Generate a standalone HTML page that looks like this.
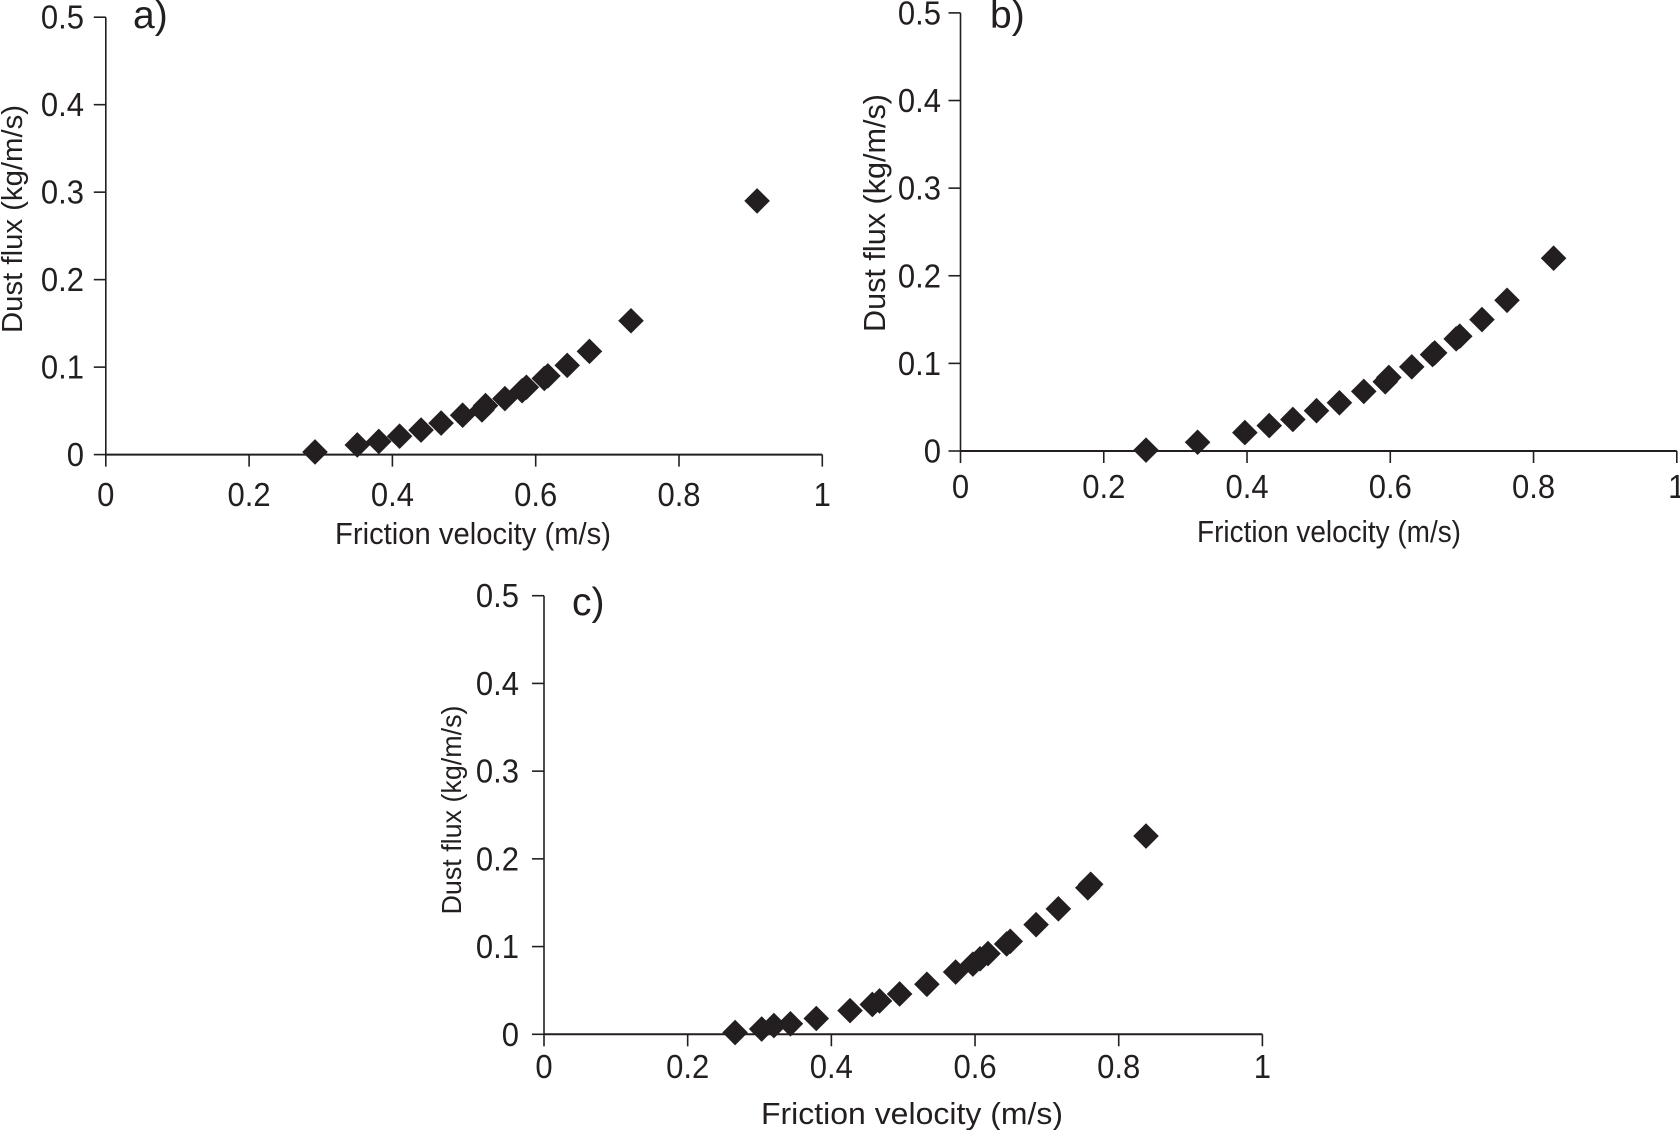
<!DOCTYPE html>
<html lang="en">
<head>
<meta charset="utf-8">
<title>Dust flux vs friction velocity</title>
<style>
html,body{margin:0;padding:0;background:#fff;width:1680px;height:1130px;overflow:hidden}
svg{display:block}
text{font-family:"Liberation Sans",Arial,sans-serif;fill:#231f20}
</style>
</head>
<body>
<svg id="chart" xmlns="http://www.w3.org/2000/svg" width="1680" height="1130" viewBox="0 0 1680 1130"></svg>
<script>
const xTickValues = [0, 0.2, 0.4, 0.6, 0.8, 1];
const yTickValues = [0, 0.1, 0.2, 0.3, 0.4, 0.5];
const xTickLabels = ['0', '0.2', '0.4', '0.6', '0.8', '1'];
const yTickLabels = ['0', '0.1', '0.2', '0.3', '0.4', '0.5'];

const velocityA = [0.292, 0.351, 0.381, 0.410, 0.440, 0.468, 0.498, 0.525, 0.530, 0.557, 0.581, 0.587, 0.612, 0.617, 0.644, 0.675, 0.733, 0.909];
const fluxA = [0.003, 0.011, 0.015, 0.021, 0.028, 0.036, 0.045, 0.051, 0.056, 0.064, 0.073, 0.077, 0.087, 0.090, 0.102, 0.118, 0.153, 0.290];

const velocityB = [0.259, 0.331, 0.397, 0.431, 0.464, 0.497, 0.529, 0.563, 0.593, 0.598, 0.630, 0.659, 0.662, 0.692, 0.697, 0.728, 0.763, 0.828];
const fluxB = [0.001, 0.010, 0.021, 0.029, 0.036, 0.046, 0.055, 0.068, 0.079, 0.084, 0.096, 0.110, 0.112, 0.128, 0.131, 0.150, 0.172, 0.220];

const velocityC = [0.266, 0.303, 0.320, 0.343, 0.379, 0.426, 0.457, 0.467, 0.495, 0.533, 0.573, 0.597, 0.607, 0.618, 0.644, 0.649, 0.685, 0.716, 0.757, 0.761, 0.838];
const fluxC = [0.002, 0.006, 0.010, 0.012, 0.018, 0.027, 0.034, 0.038, 0.046, 0.057, 0.071, 0.080, 0.086, 0.092, 0.103, 0.106, 0.125, 0.143, 0.167, 0.171, 0.226];

const xTitleText = 'Friction velocity (m/s)';
const yTitleText = 'Dust flux (kg/m/s)';

const INK = '#231f20';
const NS = 'http://www.w3.org/2000/svg';
const root = document.getElementById('chart');

function el(parent, tag, attrs, text) {
  const node = document.createElementNS(NS, tag);
  for (const key in attrs) node.setAttribute(key, attrs[key]);
  if (text !== undefined) node.textContent = text;
  parent.appendChild(node);
  return node;
}

function drawPanel(p, velocity, flux) {
  const xScale = v => p.x0 + (p.x1 - p.x0) * v;
  const yScale = v => p.y0 - (p.y0 - p.y5) * (v / 0.5);

  const group = el(root, 'g', {});
  
  

  const yAxis = el(group, 'line', { x1: p.x0, x2: p.x0, y1: p.y5, y2: p.y0, stroke: INK, 'stroke-width': 1.6 });
  
  

  const xAxis = el(group, 'line', { x1: p.x0, x2: p.x1, y1: p.y0, y2: p.y0, stroke: INK, 'stroke-width': 2 });
  
  

  xTickValues.forEach((value, i) => {
    const x = xScale(value);
    const tick = el(group, 'line', { x1: x, x2: x, y1: p.y0, y2: p.y0 + 12, stroke: INK, 'stroke-width': 1.6 });
    
    
    const label = el(group, 'text', { transform: 'translate(' + x + ',' + p.xTickY + ') scale(0.94,1)', 'text-anchor': 'middle', 'font-size': 33 }, xTickLabels[i]);
    
    
  });

  yTickValues.forEach((value, i) => {
    const y = yScale(value);
    const tick = el(group, 'line', { x1: p.x0 - 12, x2: p.x0, y1: y, y2: y, stroke: INK, 'stroke-width': 1.6 });
    
    
    const label = el(group, 'text', { transform: 'translate(' + p.yTickX + ',' + (y + 11.5) + ') scale(0.94,1)', 'text-anchor': 'end', 'font-size': 33 }, yTickLabels[i]);
    
    
  });

  const xTitle = el(group, 'text', { x: p.xTitleX, y: p.xTitleY, 'text-anchor': 'middle', 'font-size': 31, textLength: p.xTitleLen, lengthAdjust: 'spacingAndGlyphs' }, xTitleText);
  
  

  const yTitle = el(group, 'text', { transform: 'translate(' + p.yTitleX + ',' + p.yTitleY + ') rotate(-90)', 'text-anchor': 'middle', 'font-size': p.yTitleSize, textLength: p.yTitleLen, lengthAdjust: 'spacingAndGlyphs' }, yTitleText);
  
  

  const panelLabel = el(group, 'text', { x: p.labelX, y: p.labelY, 'font-size': 39 }, p.id + ')');
  
  

  velocity.forEach((v, i) => {
    const cx = xScale(v);
    const cy = yScale(flux[i]);
    const r = 12.8;
    const point = el(group, 'polygon', {
      points: [cx, cy - r, cx + r, cy, cx, cy + r, cx - r, cy].join(','),
      fill: INK
    });
    
    
  });
}

drawPanel({ id: 'a', x0: 105.8, x1: 822.3, y0: 454.6, y5: 17.2, yTickX: 84, xTickY: 506, xTitleX: 473, xTitleY: 544, xTitleLen: 276, yTitleX: 22, yTitleY: 219, yTitleLen: 228, yTitleSize: 29, labelX: 133, labelY: 28 }, velocityA, fluxA);
drawPanel({ id: 'b', x0: 960.5, x1: 1676.8, y0: 451, y5: 12.9, yTickX: 941, xTickY: 498, xTitleX: 1329, xTitleY: 542, xTitleLen: 264, yTitleX: 885, yTitleY: 213, yTitleLen: 238, yTitleSize: 31, labelX: 990, labelY: 28 }, velocityB, fluxB);
drawPanel({ id: 'c', x0: 544, x1: 1262.4, y0: 1034.3, y5: 595.7, yTickX: 519, xTickY: 1078, xTitleX: 912, xTitleY: 1124, xTitleLen: 302, yTitleX: 461, yTitleY: 810, yTitleLen: 209, yTitleSize: 28, labelX: 572, labelY: 615 }, velocityC, fluxC);
</script>
</body>
</html>
